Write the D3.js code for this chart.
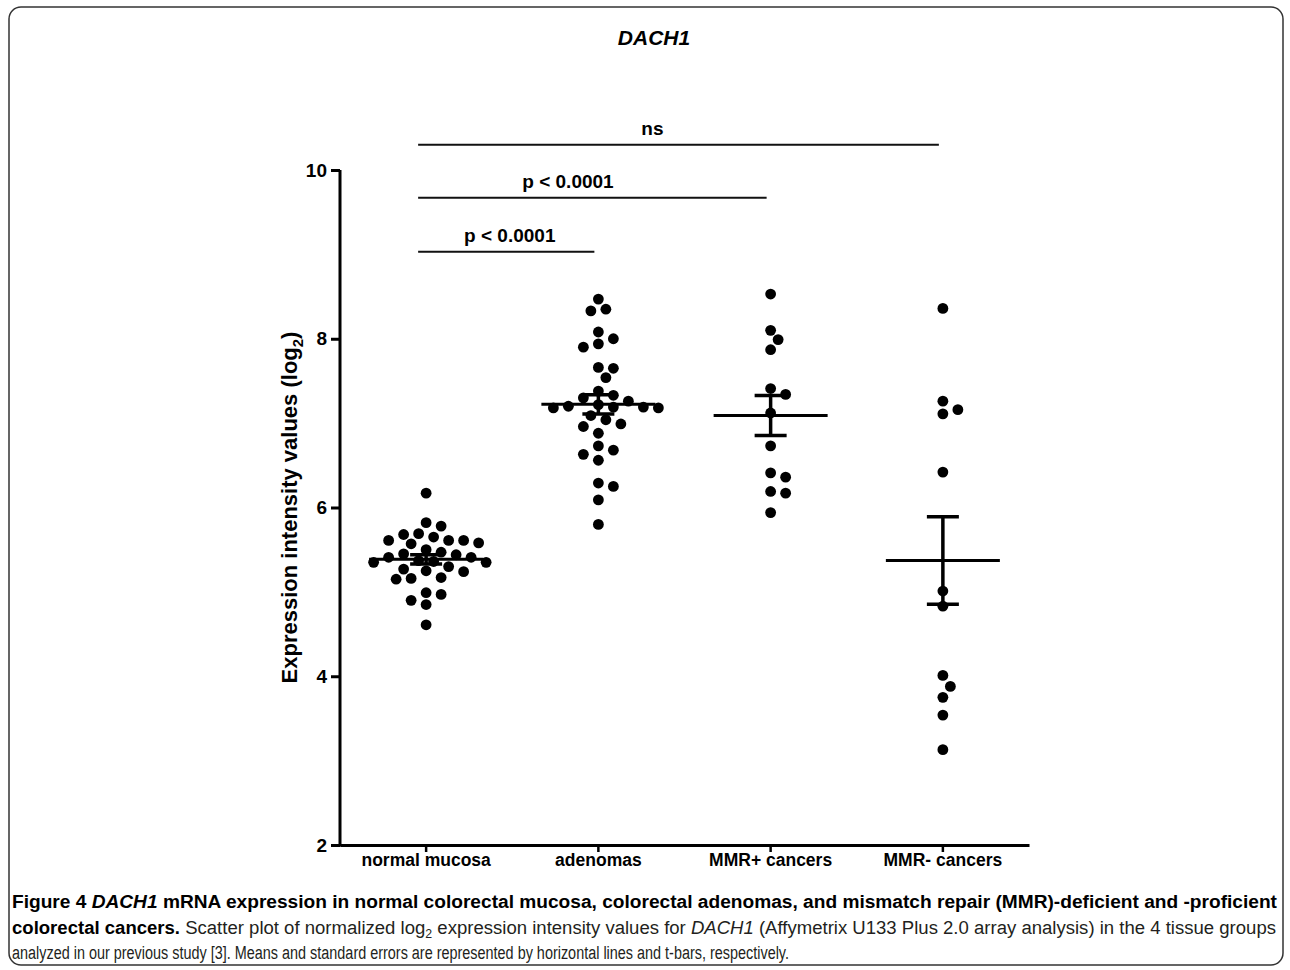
<!DOCTYPE html>
<html>
<head>
<meta charset="utf-8">
<script src="https://cdn.jsdelivr.net/npm/d3@7"></script>
<style>
  body { margin: 0; background: #fff; }
  svg text { font-family: Arial, "Liberation Sans", sans-serif; }
  .cap { font-family: "Liberation Sans Narrow", "Liberation Sans", Arial, sans-serif; font-size: 18px; fill: #231f20; }
</style>
</head>
<body>
<div id="chart"></div>
<script>
// categories and values (log2 expression)
const categories = ["normal mucosa", "adenomas", "MMR+ cancers", "MMR- cancers"];
const normalMucosa = [6.17, 5.82, 5.78, 5.69, 5.68, 5.65, 5.61, 5.61, 5.61, 5.58, 5.57,
    5.50, 5.47, 5.45, 5.44, 5.41, 5.41, 5.37, 5.36, 5.35, 5.35, 5.30, 5.27, 5.25, 5.24,
    5.17, 5.16, 5.15, 4.99, 4.97, 4.90, 4.85, 4.61];
const adenomas = [8.47, 8.35, 8.33, 8.08, 8.00, 7.90, 7.94, 7.65, 7.66, 7.54, 7.38,
    7.33, 7.30, 7.20, 7.18, 7.18, 7.22, 7.19, 7.19, 7.26, 7.09, 6.99, 6.88, 6.96, 7.04,
    6.73, 6.63, 6.56, 6.68, 6.25, 6.29, 6.09, 5.80];
const mmrPos = [8.53, 8.10, 7.99, 7.87, 7.41, 7.34, 7.12, 6.73, 6.36, 6.41, 6.19, 6.17, 5.94];
const mmrNeg = [8.36, 7.26, 7.11, 7.16, 6.42, 5.01, 4.83, 4.01, 3.88, 3.75, 3.54, 3.13];
const yTicks = [2, 4, 6, 8, 10];

// significance brackets: from group, to group, label, level on the y scale,
// and where along the line the label sits (0 = start, 1 = end)
const compFrom = [0, 0, 0];
const compTo = [1, 2, 3];
const compLabels = ["p < 0.0001", "p < 0.0001", "ns"];
const compLevels = [9.03, 9.67, 10.30];
const compLabelAt = [0.52, 0.43, 0.45];

const groups = [normalMucosa, adenomas, mmrPos, mmrNeg];

const W = 1290, H = 970;
const svg = d3.select("#chart").append("svg")
    .attr("width", W)
    .attr("height", H);

// frame round the figure
svg.append("rect")
    .attr("x", 9).attr("y", 7)
    .attr("width", 1274).attr("height", 958)
    .attr("rx", 12)
    .attr("fill", "none")
    .attr("stroke", "#333")
    .attr("stroke-width", 1.5);

// scales
const x = d3.scaleBand().domain(categories).range([340, 1029]);
const y = d3.scaleLinear().domain([2, 10]).range([845, 170]);
const cx = d => x(d) + x.bandwidth() / 2;

// title
svg.append("text")
    .attr("x", 654).attr("y", 45)
    .attr("text-anchor", "middle")
    .style("font-size", "21px")
    .style("font-weight", "bold")
    .style("font-style", "italic")
    .text("DACH1");

// y axis
const yAxis = d3.axisLeft(y).tickValues(yTicks).tickSize(9).tickPadding(4);
const gy = svg.append("g")
    .attr("transform", "translate(340,0)")
    .call(yAxis);
gy.select(".domain").attr("stroke-width", 3).attr("d", "M0," + y(10) + "V" + (y(2) + 1.5));
gy.selectAll(".tick line").attr("stroke-width", 3);
gy.selectAll(".tick text")
    .style("font-size", "19px")
    .style("font-weight", "bold")
    .style("font-family", "Arial, 'Liberation Sans', sans-serif");

// x axis
const xAxis = d3.axisBottom(x).tickSize(7).tickPadding(2).tickSizeOuter(0);
const gx = svg.append("g")
    .attr("transform", "translate(0,845)")
    .call(xAxis);
gx.select(".domain").attr("stroke-width", 3);
gx.selectAll(".tick line").attr("stroke-width", 2.5);
gx.selectAll(".tick text")
    .style("font-size", "17.5px")
    .style("font-weight", "bold")
    .style("font-family", "Arial, 'Liberation Sans', sans-serif");

// y axis title
const yl = svg.append("text")
    .attr("transform", "translate(297," + ((y(2) + y(10)) / 2) + ") rotate(-90)")
    .attr("text-anchor", "middle")
    .style("font-size", "22px")
    .style("font-weight", "bold");
yl.append("tspan").text("Expression intensity values (log");
yl.append("tspan").attr("dy", 6).style("font-size", "15px").text("2");
yl.append("tspan").attr("dy", -6).text(")");

// significance brackets
compLabels.forEach((lab, i) => {
    let x1 = cx(categories[compFrom[i]]) - 8;
    let x2 = cx(categories[compTo[i]]) - 4;
    let ly = y(compLevels[i]);
    svg.append("line")
        .attr("x1", x1).attr("x2", x2)
        .attr("y1", ly).attr("y2", ly)
        .attr("stroke", "#111")
        .attr("stroke-width", 2);
    svg.append("text")
        .attr("x", x1 + (x2 - x1) * compLabelAt[i])
        .attr("y", ly - 10)
        .attr("text-anchor", "middle")
        .style("font-size", "19px")
        .style("font-weight", "bold")
        .text(lab);
});

// simple beeswarm: offsets in steps, first free place nearest the centre
function swarm(values) {
    let step = 7.5, minD = 11.5;
    let pts = values.map(v => ({ v: v, py: y(v) })).sort((a, b) => a.py - b.py);
    let placed = [];
    pts.forEach(p => {
        for (let k = 0; k < 60; k++) {
            let off = (k % 2 === 1 ? 1 : -1) * Math.ceil(k / 2) * step;
            let hit = placed.some(q => Math.hypot(q.dx - off, q.py - p.py) < minD);
            if (!hit) { p.dx = off; break; }
        }
        placed.push(p);
    });
    return pts;
}

groups.forEach((vals, gi) => {
    let c = cx(categories[gi]);
    let g = svg.append("g").attr("class", "group");

    g.selectAll("circle")
        .data(swarm(vals))
        .enter().append("circle")
        .attr("cx", d => c + d.dx)
        .attr("cy", d => y(d.v))
        .attr("r", 5.4)
        .attr("fill", "#000");

    // mean and standard error
    let m = d3.mean(vals);
    let se = d3.deviation(vals) / Math.sqrt(vals.length);

    g.append("line")
        .attr("x1", c - 57).attr("x2", c + 57)
        .attr("y1", y(m)).attr("y2", y(m))
        .attr("stroke", "#000").attr("stroke-width", 3);
    g.append("line")
        .attr("x1", c).attr("x2", c)
        .attr("y1", y(m + se)).attr("y2", y(m - se))
        .attr("stroke", "#000").attr("stroke-width", 3.5);
    [m + se, m - se].forEach(v => {
        g.append("line")
            .attr("x1", c - 16).attr("x2", c + 16)
            .attr("y1", y(v)).attr("y2", y(v))
            .attr("stroke", "#000").attr("stroke-width", 3.5);
    });
});

// caption
const cap1 = svg.append("text").attr("class", "cap")
    .attr("x", 12).attr("y", 908)
    .attr("textLength", 1265).attr("lengthAdjust", "spacingAndGlyphs")
    .style("font-weight", "bold").style("fill", "#000");
cap1.append("tspan").text("Figure 4 ");
cap1.append("tspan").style("font-style", "italic").text("DACH1");
cap1.append("tspan").text(" mRNA expression in normal colorectal mucosa, colorectal adenomas, and mismatch repair (MMR)-deficient and -proficient");

const cap2 = svg.append("text").attr("class", "cap")
    .attr("x", 12).attr("y", 934)
    .attr("textLength", 1264).attr("lengthAdjust", "spacingAndGlyphs");
cap2.append("tspan").style("font-weight", "bold").style("fill", "#000").text("colorectal cancers.");
cap2.append("tspan").text(" Scatter plot of normalized log");
cap2.append("tspan").attr("dy", 4).style("font-size", "12px").text("2");
cap2.append("tspan").attr("dy", -4).text(" expression intensity values for ");
cap2.append("tspan").style("font-style", "italic").text("DACH1");
cap2.append("tspan").text(" (Affymetrix U133 Plus 2.0 array analysis) in the 4 tissue groups");

svg.append("text").attr("class", "cap")
    .attr("x", 12).attr("y", 959)
    .attr("textLength", 777).attr("lengthAdjust", "spacingAndGlyphs")
    .text("analyzed in our previous study [3]. Means and standard errors are represented by horizontal lines and t-bars, respectively.");
</script>
</body>
</html>
